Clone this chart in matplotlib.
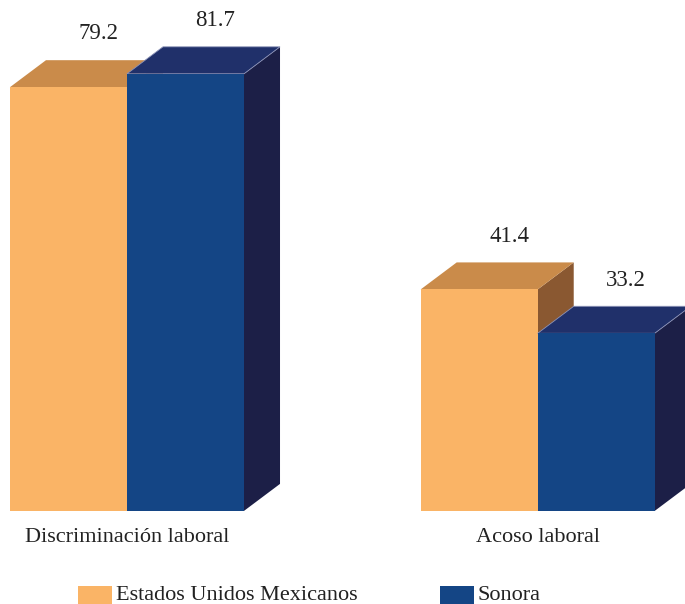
import matplotlib
matplotlib.use('Agg')
import matplotlib.pyplot as plt
from matplotlib.patches import Polygon, Rectangle

categories = ['Discriminación laboral', 'Acoso laboral']
series = ['Estados Unidos Mexicanos', 'Sonora']
mexico = [79.2, 41.4]
sonora = [81.7, 33.2]

front = ['#FAB466', '#144585']
top = ['#CA8B4A', '#20306A']
side = ['#8A5831', '#1C1F47']

plt.rcParams['font.family'] = ['Liberation Serif', 'DejaVu Serif']

fig = plt.figure(figsize=(6.85, 6.04), dpi=100)
ax = fig.add_axes([0, 0, 1, 1])
ax.set_xlim(-1.085, 4.769)
ax.set_ylim(-17.4, 95.5)
ax.axis('off')

centers = [0, 3.51]
width = 1.0
dx = 0.308   # depth in x units
dy = 5.05    # depth in value units


def bar3d(x0, h, k):
    x1 = x0 + width
    # side, top, front
    ax.add_patch(Polygon([(x1, 0), (x1 + dx, dy), (x1 + dx, h + dy), (x1, h)],
                         closed=True, facecolor=side[k], edgecolor='none'))
    ax.add_patch(Polygon([(x0, h), (x0 + dx, h + dy), (x1 + dx, h + dy), (x1, h)],
                         closed=True, facecolor=top[k],
                         edgecolor='#8C93B8' if k == 1 else 'none', linewidth=0.6))
    ax.add_patch(Rectangle((x0, 0), width, h, facecolor=front[k], edgecolor='none'))
    ax.text(x0 + width / 2 + 0.256, h + dy + 4.9, f'{h:.1f}',
            ha='center', va='center', fontsize=16.5, color='#222222')


for i, c in enumerate(centers):
    bar3d(c - width, mexico[i], 0)
    bar3d(c, sonora[i], 1)
    ax.text(c, -4.9, categories[i], ha='center', va='center',
            fontsize=16, color='#222222')

# legend
for k, (lx, name) in enumerate([(78, series[0]), (440, series[1])]):
    fig.patches.append(Rectangle((lx / 685, 0), 34 / 685, 18 / 604,
                                 transform=fig.transFigure, facecolor=front[k],
                                 edgecolor='none'))
    fig.text((lx + 38) / 685, 8 / 604, name, ha='left', va='center',
             fontsize=16, color='#222222')

fig.savefig('out.png', dpi=100)
